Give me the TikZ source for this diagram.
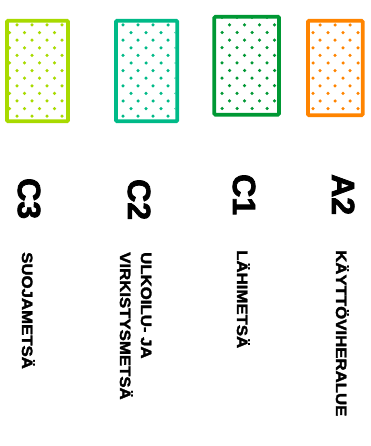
\documentclass[tikz,border=0pt]{standalone}
\usepackage{fontspec}
\setmainfont{Liberation Sans}
\newfontfamily\heavyfont{Liberation Sans Bold}[FakeBold=2.5]
\newfontfamily\subfont{Liberation Sans Bold}[FakeBold=2]
\definecolor{cthree}{RGB}{168,218,0}
\definecolor{ctwo}{RGB}{0,186,136}
\definecolor{cone}{RGB}{0,152,52}
\definecolor{atwo}{RGB}{255,132,0}
\tikzset{
  frame/.style={line width=3.8pt, rounded corners=1.2pt},
  biglabel/.style={rotate=-90, anchor=base west, inner sep=0pt, font=\heavyfont\fontsize{32}{32}\selectfont},
  sublabel/.style={rotate=-90, anchor=base west, inner sep=0pt, font=\subfont\fontsize{15}{15}\selectfont},
}
\newcommand{\dotfield}[7]{% color, xA, xB, y0, last row, clip corner 1, clip corner 2
  \begin{scope}
    \clip #6 rectangle #7;
    \foreach \r in {0,...,#5} {
      \pgfmathsetmacro\yy{#4+7.6*\r}
      \pgfmathsetmacro\xs{mod(\r,2)==0 ? #2 : #3}
      \foreach \k in {0,...,4} \fill[#1] (\xs+15*\k,\yy) circle (1.75pt);
    }
  \end{scope}
}
\begin{document}
\begin{tikzpicture}[x=1pt,y=-1pt]
\useasboundingbox (0,0) rectangle (371,446);
% C3
\dotfield{cthree}{17}{9.5}{25}{12}{(9,22.6)}{(66,119.4)}
\draw[frame, cthree] (7,20.7) rectangle (68,121.3);
% C2
\dotfield{ctwo}{123}{131}{25}{12}{(118,22.6)}{(175.4,119.4)}
\draw[frame, ctwo] (116,20.7) rectangle (177.3,121.3);
% C1
\dotfield{cone}{222}{229.5}{17.3}{12}{(216.2,18.6)}{(277.1,112.8)}
\draw[frame, cone] (214.3,16.7) rectangle (279,114.7);
% A2
\dotfield{atwo}{320}{313}{25}{11}{(309.9,22.6)}{(360.8,113.4)}
\draw[frame, atwo] (308,20.7) rectangle (362.7,115.3);
% labels
\node[biglabel] (lc3) at (18,178) {C3};
\node[biglabel] (lc2) at (128,179) {C2};
\node[biglabel] (lc1) at (233,174) {C1};
\node[biglabel] (la2) at (332,174) {A2};
\node[sublabel] (tsuo) at (22,252) {\scalebox{1.12}[1]{SUOJAMETSÄ}};
\node[sublabel] (tulk) at (141,252) {\scalebox{1.12}[1]{ULKOILU- JA}};
\node[sublabel] (tvir) at (120,252) {\scalebox{1.12}[1]{VIRKISTYSMETSÄ}};
\node[sublabel] (tlah) at (237,250) {\scalebox{1.12}[1]{LÄHIMETSÄ}};
\node[sublabel] (tkay) at (336,250) {\scalebox{1.12}[1]{KÄYTTÖVIHERALUE}};
\end{tikzpicture}
\end{document}
